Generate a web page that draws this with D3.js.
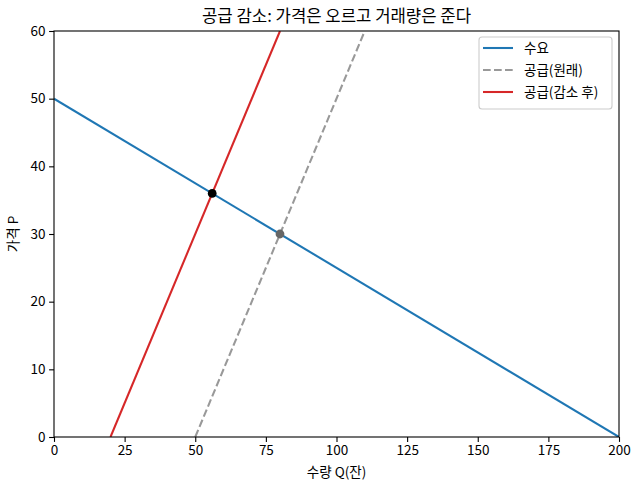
<!DOCTYPE html>
<html><head><meta charset="utf-8">
<script src="https://cdn.jsdelivr.net/npm/d3@7"></script>
<style>body{margin:0;background:#fff}svg{display:block}text{font-family:"Noto Sans CJK KR","Noto Sans",sans-serif}</style>
</head><body>
<svg id="c" width="640" height="490"></svg>
<script>
const demandQ=[0,200], demandP=[50,0];
const supplyQ=[50,110], supplyP=[0,60];
const newSupplyQ=[20,80], newSupplyP=[0,60];
const eqOld=[80,30], eqNew=[56,36];
const xTicks=[0,25,50,75,100,125,150,175,200];
const yTicks=[0,10,20,30,40,50,60];
const legendLabels=["수요","공급(원래)","공급(감소 후)"];
const title="공급 감소: 가격은 오르고 거래량은 준다";

const svg=d3.select("#c");
const L=54,R=619,T=31,B=437;
const x=d3.scaleLinear().domain([0,200]).range([L,R]);
const y=d3.scaleLinear().domain([0,60]).range([B,T]);
svg.append("defs").append("clipPath").attr("id","cp").append("rect").attr("x",L).attr("y",T).attr("width",R-L).attr("height",B-T);
const g=svg.append("g").attr("clip-path","url(#cp)");
const line=d3.line().x(d=>x(d[0])).y(d=>y(d[1]));
const pts=(qs,ps)=>qs.map((q,i)=>[q,ps[i]]);
const LW=2.08, DASH="7.7,3.3";
g.append("path").attr("d",line(pts(demandQ,demandP))).attr("stroke","#1f77b4").attr("stroke-width",LW).attr("fill","none");
g.append("path").attr("d",line(pts(supplyQ,supplyP))).attr("stroke","#999999").attr("stroke-width",LW).attr("stroke-dasharray",DASH).attr("fill","none");
g.append("path").attr("d",line(pts(newSupplyQ,newSupplyP))).attr("stroke","#d62728").attr("stroke-width",LW).attr("fill","none");
g.append("circle").attr("cx",x(eqOld[0])).attr("cy",y(eqOld[1])).attr("r",4.4).attr("fill","#666666");
g.append("circle").attr("cx",x(eqNew[0])).attr("cy",y(eqNew[1])).attr("r",4.4).attr("fill","#000000");

const xa=svg.append("g").attr("transform",`translate(0,${B})`).call(d3.axisBottom(x).tickValues(xTicks).tickSize(4.9).tickPadding(3.5));
const ya=svg.append("g").attr("transform",`translate(${L},0)`).call(d3.axisLeft(y).tickValues(yTicks).tickSize(4.9).tickPadding(3.5));
[xa,ya].forEach(a=>{a.select(".domain").remove();a.selectAll("text").attr("font-size",13.5).attr("fill","#000").style("font-family","'Noto Sans CJK KR'");a.selectAll("line").attr("stroke","#000").attr("stroke-width",1.1);});
svg.append("rect").attr("x",L).attr("y",T).attr("width",R-L).attr("height",B-T).attr("fill","none").attr("stroke","#000").attr("stroke-width",1.1);

svg.append("text").attr("x",(L+R)/2).attr("y",22).attr("text-anchor","middle").attr("font-size",16.7).text(title);
svg.append("text").attr("x",(L+R)/2).attr("y",477).attr("text-anchor","middle").attr("font-size",13.5).text("수량 Q(잔)");
svg.append("text").attr("transform",`translate(18,${(T+B)/2}) rotate(-90)`).attr("text-anchor","middle").attr("font-size",13.5).text("가격 P");

const lg=svg.append("g");
lg.append("rect").attr("x",479).attr("y",37).attr("width",133).attr("height",72).attr("rx",3).attr("fill","#fff").attr("fill-opacity",0.8).attr("stroke","#cccccc").attr("stroke-width",1.1);
const styles=[{c:"#1f77b4",d:null},{c:"#999999",d:DASH},{c:"#d62728",d:null}];
legendLabels.forEach((t,i)=>{
  const yy=48+i*22;
  lg.append("line").attr("x1",483).attr("x2",513).attr("y1",yy).attr("y2",yy).attr("stroke",styles[i].c).attr("stroke-width",LW).attr("stroke-dasharray",styles[i].d);
  lg.append("text").attr("x",524).attr("y",yy+4.5).attr("font-size",13.5).text(t);
});
</script></body></html>
